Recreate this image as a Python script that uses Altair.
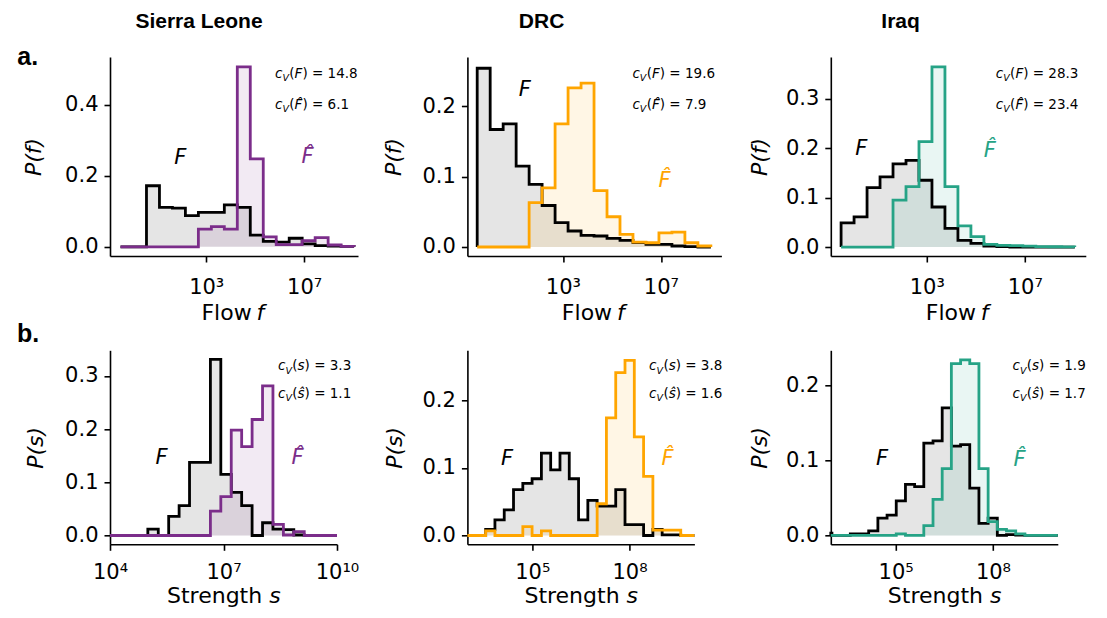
import json
import altair as alt
import pandas as pd

# ---------------- data (log10 bin edges and probabilities) ----------------
COUNTRIES = ["Sierra Leone", "DRC", "Iraq"]
COLORS = ["#7b2d8a", "#ffa500", "#26a386"]

FLOW_EDGES = [-0.50, 0.03, 0.56, 1.09, 1.62, 2.15, 2.68, 3.21, 3.74, 4.27,
              4.80, 5.33, 5.86, 6.39, 6.92, 7.45, 7.98, 8.51, 9.04]

SL_FLOW_F = [0, 0, 0.172, 0.111, 0.109, 0.088, 0.097, 0.097, 0.118, 0.111,
             0.033, 0.015, 0.013, 0.024, 0.008, 0.003, 0.002, 0.001]
SL_FLOW_FH = [0, 0, 0, 0, 0, 0, 0.050, 0.057, 0.050, 0.507,
              0.248, 0.028, 0.006, 0.006, 0.017, 0.026, 0.005, 0.001]
DRC_FLOW_F = [0.254, 0.167, 0.175, 0.115, 0.089, 0.059, 0.0345, 0.0227, 0.0165, 0.0156,
              0.0123, 0.0095, 0.0061, 0.0038, 0.0038, 0.0014, 0.0005, 0]
DRC_FLOW_FH = [0, 0, 0, 0, 0.063, 0.084, 0.175, 0.226, 0.233, 0.080,
               0.043, 0.018, 0.007, 0.006, 0.020, 0.021, 0.006, 0.0014]
IRQ_FLOW_F = [0.049, 0.061, 0.120, 0.142, 0.168, 0.175, 0.135, 0.081, 0.038, 0.0135,
              0.0074, 0.002, 0.001, 0, 0, 0, 0, 0]
IRQ_FLOW_FH = [0, 0, 0, 0, 0.095, 0.122, 0.213, 0.364, 0.122, 0.043,
               0.021, 0.0054, 0.0034, 0.003, 0.002, 0.001, 0.0007, 0.0005]

SL_STR_EDGES = [4.0, 5.0, 5.276, 5.551, 5.827, 6.102, 6.378, 6.654, 6.929, 7.205,
                7.480, 7.756, 8.032, 8.307, 8.583, 8.858, 9.134, 10.0]
SL_STR_F = [0, 0.012, 0, 0.036, 0.056, 0.1375, 0.1375, 0.331, 0.115, 0.081,
            0.056, 0, 0.024, 0.012, 0.011, 0.001, 0]
SL_STR_FH = [0, 0, 0, 0, 0, 0, 0, 0.046, 0.073, 0.198,
             0.167, 0.218, 0.281, 0.021, 0.001, 0.0075, 0]

DRC_STR_EDGES = [3.0, 3.563, 3.849, 4.136, 4.422, 4.709, 4.995, 5.282, 5.568, 5.855,
                 6.141, 6.428, 6.714, 7.001, 7.287, 7.574, 7.860, 8.147, 8.433, 8.720,
                 9.006, 9.293, 9.579, 10.0]
DRC_STR_F = [0, 0.009, 0.023, 0.038, 0.068, 0.077, 0.084, 0.122, 0.097, 0.122,
             0.084, 0.023, 0.052, 0.0435, 0.0435, 0.068, 0.016, 0.016, 0, 0.009,
             0.001, 0.001, 0]
DRC_STR_FH = [0, 0.007, 0, 0, 0, 0.013, 0, 0.007, 0, 0,
              0, 0, 0, 0.047, 0.174, 0.241, 0.259, 0.146, 0.0875, 0.008,
              0.008, 0.008, 0]

IRQ_STR_EDGES = [3.0, 3.035, 3.318, 3.602, 3.885, 4.168, 4.452, 4.735, 5.018, 5.302,
                 5.585, 5.868, 6.152, 6.435, 6.718, 7.002, 7.285, 7.568, 7.852, 8.135,
                 8.418, 8.702, 8.985, 10.0]
IRQ_STR_F = [0.003, 0, 0, 0.002, 0.002, 0.006, 0.023, 0.027, 0.046, 0.068,
             0.065, 0.123, 0.126, 0.170, 0.119, 0.121, 0.063, 0.016, 0.023, 0,
             0.001, 0.0005, 0]
IRQ_STR_FH = [0, 0, 0, 0, 0, 0, 0, 0, 0.002, 0,
              0, 0.013, 0.048, 0.089, 0.229, 0.234, 0.229, 0.089, 0.0185, 0.008,
              0.006, 0.002, 0]

CV_FLOW = [("14.8", "6.1"), ("19.6", "7.9"), ("28.3", "23.4")]
CV_STR = [("3.3", "1.1"), ("3.8", "1.6"), ("1.9", "1.7")]

SUP = ["⁰", "¹", "²", "³", "⁴", "⁵", "⁶", "⁷", "⁸", "⁹", "¹⁰"]
LABEL_EXPR = "'10' + " + json.dumps(SUP, ensure_ascii=False) + "[round(log(datum.value) / LN10)]"

FONT = "DejaVu Sans"
BOLD_FONT = "Liberation Sans"
ONE = pd.DataFrame({"k": [0]})
LW = 2.8


def area_df(edges, vals):
    xs = [10 ** e for e in edges]
    return pd.DataFrame({"x": xs, "y": list(vals) + [vals[-1]]})


def line_df(edges, vals):
    xs = [10 ** e for e in edges]
    px = [xs[0]] + xs[:-1] + [xs[-1], xs[-1]]
    py = [0.0] + list(vals) + [vals[-1], 0.0]
    return pd.DataFrame({"x": px, "y": py, "o": list(range(len(px)))})


def ptext(text, x, y, size, color="black", style="normal", weight="normal",
          align="left", baseline="alphabetic", font=FONT):
    return alt.Chart(ONE).mark_text(
        text=text, fontSize=size, color=color, fontStyle=style, fontWeight=weight,
        align=align, baseline=baseline, font=font,
    ).encode(x=alt.value(x), y=alt.value(y))


def cv_pieces(x0, ybase, arg, val):
    fs = 13.5
    return [
        ptext("c", x0, ybase, fs, style="italic"),
        ptext("V", x0 + 7.4, ybase + 3.2, 9.5, style="italic"),
        ptext("(", x0 + 14.3, ybase, fs),
        ptext(arg, x0 + 19.6, ybase, fs, style="italic"),
        ptext(") = " + val, x0 + 19.6 + (7.8 if arg.startswith("F") else 7.0), ybase, fs),
    ]


def panel(edges, fv, fhv, color, w, h, xdom, ydom, xticks, yticks, ytitle, ytx,
          xmain, xvar, xmain_shift, xvar_shift, xbase, lpad, fpos, fhpos,
          cvx, cvy, arg1, arg2, cvvals, extra):
    xs = alt.X("x:Q",
               scale=alt.Scale(type="log", domain=[10 ** xdom[0], 10 ** xdom[1]], nice=False),
               axis=alt.Axis(values=[10 ** t for t in xticks], labelExpr=LABEL_EXPR, title=None,
                             labelPadding=lpad, labelFontSize=21, labelFont=FONT,
                             labelColor="black", tickColor="black", tickWidth=1.6, tickSize=6,
                             domainColor="black", domainWidth=1.6, grid=False, labelFlush=False))
    ys = alt.Y("y:Q",
               scale=alt.Scale(domain=ydom, nice=False, zero=False),
               axis=alt.Axis(values=yticks, format=".1f", title=ytitle, titleFont=FONT,
                             titleFontSize=22, titleFontStyle="italic", titleFontWeight="normal",
                             titleColor="black", titleX=ytx, titleY=h / 2, titleAngle=270,
                             titleAlign="center", titleBaseline="middle",
                             labelPadding=6, labelFontSize=21, labelFont=FONT, labelColor="black",
                             tickColor="black", tickWidth=1.6, tickSize=6,
                             domainColor="black", domainWidth=1.6, grid=False, labelFlush=False))

    layers = []
    layers.append(alt.Chart(area_df(edges, fv)).mark_area(
        interpolate="step-after", color="black", opacity=0.1).encode(x=xs, y=ys, y2=alt.datum(0)))
    layers.append(alt.Chart(area_df(edges, fhv)).mark_area(
        interpolate="step-after", color=color, opacity=0.1).encode(x=xs, y=ys, y2=alt.datum(0)))
    layers.append(alt.Chart(line_df(edges, fv)).mark_line(
        interpolate="step-after", color="black", strokeWidth=LW, strokeJoin="miter").encode(
        x=xs, y=ys, order="o:Q"))
    layers.append(alt.Chart(line_df(edges, fhv)).mark_line(
        interpolate="step-after", color=color, strokeWidth=LW, strokeJoin="miter").encode(
        x=xs, y=ys, order="o:Q"))

    for txt, pos, col in [("F", fpos, "black"), ("F\u0302", fhpos, color)]:
        df = pd.DataFrame({"x": [10 ** pos[0]], "y": [pos[1]]})
        layers.append(alt.Chart(df).mark_text(
            text=txt, fontSize=21, font=FONT, fontStyle="italic", color=col,
            align="center", baseline="middle").encode(x=xs, y=ys))

    layers += cv_pieces(cvx, cvy[0], arg1, cvvals[0])
    layers += cv_pieces(cvx, cvy[1], arg2, cvvals[1])

    cx = w / 2
    layers.append(ptext(xmain, cx + xmain_shift, h + xbase, 22, align="right"))
    layers.append(ptext(xvar, cx + xvar_shift, h + xbase, 22, style="italic", align="left"))
    layers += extra
    return alt.layer(*layers).properties(width=w, height=h)


HA, HB = 199, 194

a_panels = []
flow_data = [(SL_FLOW_F, SL_FLOW_FH), (DRC_FLOW_F, DRC_FLOW_FH), (IRQ_FLOW_F, IRQ_FLOW_FH)]
a_w = [248, 254, 255]
a_xdom = [[-0.93, 9.2], [-0.9, 9.47], [-0.92, 9.49]]
a_ydom = [[-0.026, 0.535], [-0.0128, 0.27], [-0.018, 0.384]]
a_yt = [[0, 0.2, 0.4], [0, 0.1, 0.2], [0, 0.1, 0.2, 0.3]]
a_ytx = [-76.7, -74.3, -71]
a_fpos = [(1.94, 0.25), (1.44, 0.223), (0.33, 0.198)]
a_fhpos = [(7.14, 0.252), (7.15, 0.094), (5.57, 0.195)]
a_title_x = [89, 74.2, 69.8]
for i in range(3):
    extra = [ptext(COUNTRIES[i], a_title_x[i], -29, 21, weight="bold", align="center", font=BOLD_FONT)]
    if i == 0:
        extra.append(ptext("a.", -92.7, 8.3, 25, weight="bold", font=BOLD_FONT))
    a_panels.append(panel(
        FLOW_EDGES, flow_data[i][0], flow_data[i][1], COLORS[i], a_w[i], HA,
        a_xdom[i], a_ydom[i], [3, 7], a_yt[i], "P(f)", a_ytx[i],
        "Flow", "f", 17.7, 22.5, 64, 14, a_fpos[i], a_fhpos[i],
        165, (21, 52), "F", "F\u0302", CV_FLOW[i], extra))

b_panels = []
str_data = [(SL_STR_EDGES, SL_STR_F, SL_STR_FH), (DRC_STR_EDGES, DRC_STR_F, DRC_STR_FH),
            (IRQ_STR_EDGES, IRQ_STR_F, IRQ_STR_FH)]
b_xdom = [[4, 10], [3, 10], [3, 10]]
b_xt = [[4, 7, 10], [5, 8], [5, 8]]
b_ydom = [[-0.0165, 0.348], [-0.013, 0.274], [-0.0118, 0.2468]]
b_yt = [[0, 0.1, 0.2, 0.3], [0, 0.1, 0.2], [0, 0.1, 0.2]]
b_ytx = [-75, -72.6, -71]
b_fpos = [(5.36, 0.145), (4.22, 0.113), (4.58, 0.102)]
b_fhpos = [(8.96, 0.145), (9.17, 0.113), (8.82, 0.101)]
b_cvx = [168, 181.7, 181.7]
for i in range(3):
    extra = []
    if i == 0:
        extra.append(ptext("b.", -93, -8.3, 25, weight="bold", font=BOLD_FONT))
    e, f, fh = str_data[i]
    b_panels.append(panel(
        e, f, fh, COLORS[i], 227, HB,
        b_xdom[i], b_ydom[i], b_xt[i], b_yt[i], "P(s)", b_ytx[i],
        "Strength", "s", 38.7, 45.7, 59, 11, b_fpos[i], b_fhpos[i],
        b_cvx[i], (20, 47.7), "s", "ŝ", CV_STR[i], extra))

chart = alt.concat(
    *a_panels, *b_panels, columns=3, bounds="flush",
    spacing={"row": 94.3, "column": 109.4},
).properties(
    padding={"left": 9, "top": 3, "right": 5, "bottom": 5},
    background="white",
).configure_view(strokeWidth=0, stroke="transparent")

chart.save("out.html", embed_options={"renderer": "svg", "actions": False})
